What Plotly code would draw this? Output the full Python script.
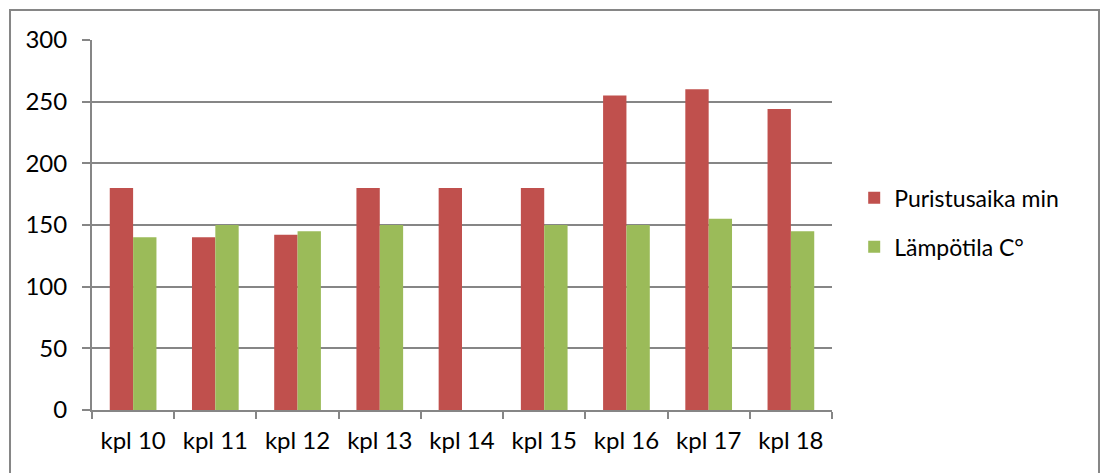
import plotly.graph_objects as go

categories = ["kpl 10", "kpl 11", "kpl 12", "kpl 13", "kpl 14",
              "kpl 15", "kpl 16", "kpl 17", "kpl 18"]
puristusaika = [180, 140, 142, 180, 180, 180, 255, 260, 244]
lampotila = [140, 150, 145, 150, None, 150, 150, 155, 145]
y_ticks = [0, 50, 100, 150, 200, 250, 300]

RED = "#C0504D"
GREEN = "#9BBB59"
AXIS = "#868686"
FONT = dict(family="Lato, 'Open Sans', sans-serif", size=24, color="#000000")

fig = go.Figure()
fig.add_trace(go.Bar(x=categories, y=puristusaika, name="Puristusaika min",
                     marker=dict(color=RED, line=dict(width=0)),
                     legendgroup="a"))
fig.add_trace(go.Bar(x=categories, y=lampotila, name="Lämpötila C°",
                     marker=dict(color=GREEN, line=dict(width=0)),
                     legendgroup="b"))

fig.update_layout(
    width=1107, height=473,
    margin=dict(l=92, r=275, t=40, b=63),
    paper_bgcolor="white", plot_bgcolor="white",
    font=FONT,
    barmode="group", bargap=0.432, bargroupgap=0,
    showlegend=True,
    legend=dict(x=1.03, y=0.507, xanchor="left", yanchor="middle",
                font=dict(size=23), tracegroupgap=16,
                bgcolor="rgba(0,0,0,0)"),
    xaxis=dict(type="category", showline=True, linecolor=AXIS, linewidth=2,
               ticks="outside", tickson="boundaries", ticklen=7,
               tickcolor=AXIS, tickwidth=2, showgrid=False,
               tickfont=FONT, ticklabelstandoff=8),
    yaxis=dict(range=[0, 300], tickvals=y_ticks, showline=True,
               linecolor=AXIS, linewidth=2, ticks="outside", ticklen=8,
               tickcolor=AXIS, tickwidth=2, showgrid=True, gridcolor=AXIS,
               gridwidth=2, zeroline=False, tickfont=FONT,
               ticklabelstandoff=10),
    shapes=[dict(type="rect", xref="paper", yref="paper",
                 x0=-0.1108, x1=1.3608, y0=-0.3, y1=1.081,
                 line=dict(color=AXIS, width=2), layer="below")],
)

fig.write_html("out.html")
